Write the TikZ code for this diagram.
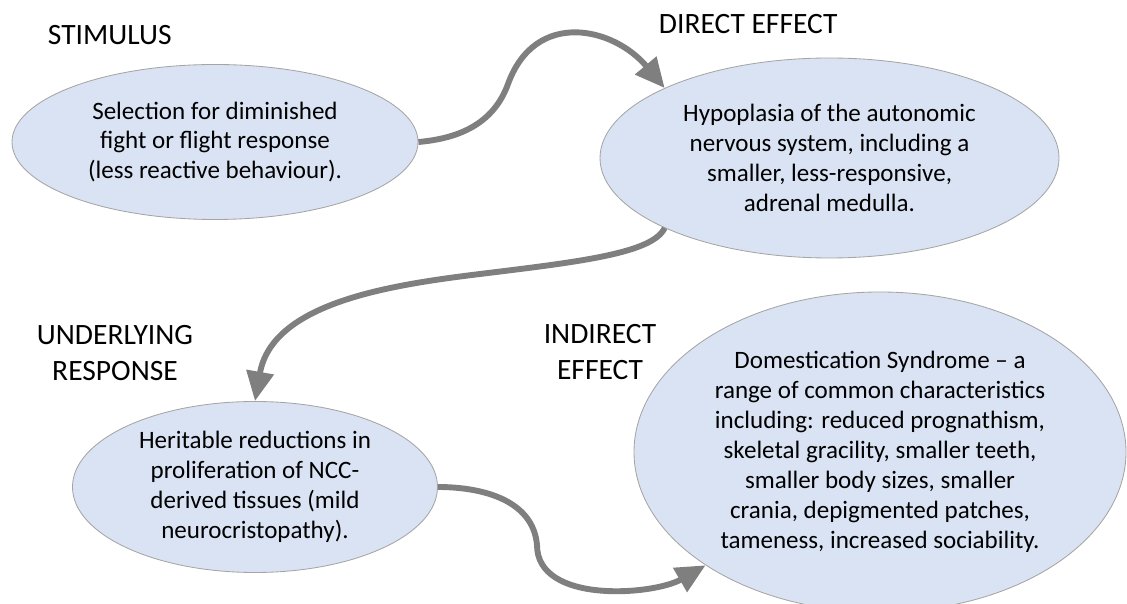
\documentclass[tikz,border=0pt]{standalone}
\usepackage{fontspec}
\setmainfont{Carlito}
\usetikzlibrary{shapes.geometric, arrows.meta}

\definecolor{bubblefill}{HTML}{DAE3F3}
\definecolor{bubbleline}{HTML}{A5A5A5}
\definecolor{flowgray}{HTML}{7F7F7F}

\begin{document}
\begin{tikzpicture}[
    bubble/.style={draw=bubbleline, fill=bubblefill, ellipse, line width=0.6pt, inner sep=0pt, align=center, font=\bodyfont},
    heading/.style={align=center, font=\fontsize{21}{25.6}\selectfont},
    flow/.style={draw=flowgray, line width=\arrowthic, -{Triangle[length=21pt, width=19pt]}}
]

    %--------------------%
    % Parameters
    %--------------------%
    \def\arrowthic{4.2pt}
    \def\bodyfont{\fontsize{17.8}{21.3}\selectfont}

    \useasboundingbox (0,0) rectangle (28.175,15.1);

    %--------------------%
    % Stimulus
    %--------------------%
    \node[heading, anchor=base west] (stimlabel) at (1.075,13.975) {STIMULUS};
    \node[bubble, minimum width=10.15cm, minimum height=3.875cm] (stimulus) at (5.375,11.55)
        {Selection for diminished\\ fight or flight response\\ (less reactive behaviour).};

    %--------------------%
    % Direct effect
    %--------------------%
    \node[heading, anchor=base west] (directlabel) at (16.35,14.25) {DIRECT EFFECT};
    \node[bubble, minimum width=11.475cm, minimum height=5cm] (direct) at (20.7375,11.15)
        {Hypoplasia of the autonomic\\ nervous system, including a\\ smaller, less-responsive,\\ adrenal medulla.};

    %--------------------%
    % Underlying response
    %--------------------%
    \node[heading] (underlabel) at (2.875,6.275) {UNDERLYING\\ RESPONSE};
    \node[bubble, minimum width=9.125cm, minimum height=4.275cm] (underlying) at (6.375,2.925)
        {Heritable reductions in\\ proliferation of NCC-\\ derived tissues (mild\\ neurocristopathy).};

    %--------------------%
    % Indirect effect
    %--------------------%
    \node[heading] (indirectlabel) at (15,6.3) {INDIRECT\\ EFFECT};
    \node[bubble, minimum width=12.3cm, minimum height=8cm] (indirect) at (22,3.8)
        {Domestication Syndrome -- a\\ range of common characteristics\\ including: reduced prognathism,\\ skeletal gracility, smaller teeth,\\ smaller body sizes, smaller\\ crania, depigmented patches,\\ tameness, increased sociability.};

    %--------------------%
    % Connections
    %--------------------%
    \coordinate (bend1) at (12.7,13);
    \coordinate (bend2) at (12,8.25);
    \coordinate (bend3) at (13.425,1.475);

    \draw[flow] (stimulus.east) to[out=5, in=-110] (bend1) to[out=70, in=130, looseness=1.3] (direct.157);
    \draw[flow] (direct.203) .. controls +(-115:0.7) and +(7:2.5) .. (bend2)
        .. controls +(187:2.25) and +(80:2.5) .. (underlying.north);
    \draw[flow] (underlying.east) to[out=0, in=95] (bend3) to[out=-90, in=210, looseness=0.9] (indirect.213);
\end{tikzpicture}
\end{document}
